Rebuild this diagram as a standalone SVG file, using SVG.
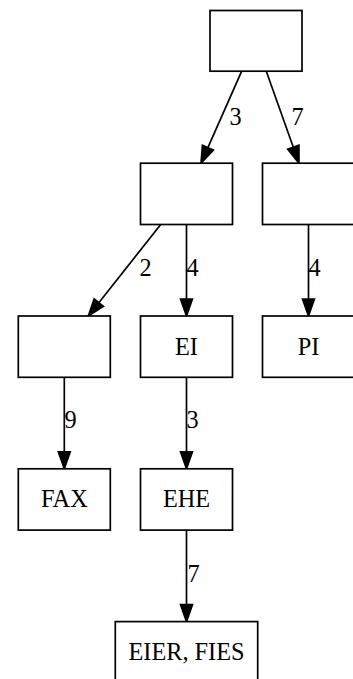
<svg xmlns="http://www.w3.org/2000/svg" width="353" height="679" viewBox="0 0 353 679">
<defs>
<marker id="arr" viewBox="0 -6 17 12" markerWidth="17" markerHeight="12" refX="0" refY="0" orient="auto" markerUnits="userSpaceOnUse" overflow="visible">
<path d="M0,-5.95 L17,0 L0,5.95 Z" fill="#000" stroke="#000" stroke-width="1.7"/>
</marker>
</defs>
<style>
.node rect{fill:#fff;stroke:#000;stroke-width:1.7}
.node text,.lbl{font-family:"Liberation Serif","Times New Roman",serif;font-size:24.3px;fill:#000}
.node text{text-anchor:middle}
.edge{fill:none;stroke:#000;stroke-width:1.7;marker-end:url(#arr)}
</style>
<rect width="353" height="679" fill="#fff"/>
<g id="connectors">
<path class="edge" d="M241.7,71.2 L207.9,147.65"/>
<path class="edge" d="M266.3,71.2 L293.3,147.2"/>
<path class="edge" d="M160.7,224.5 L98.85,302.67"/>
<path class="edge" d="M186.5,224.5 L186.5,299"/>
<path class="edge" d="M308.5,224.5 L308.5,299"/>
<path class="edge" d="M64.3,377.3 L64.3,451.8"/>
<path class="edge" d="M186.5,377.3 L186.5,451.8"/>
<path class="edge" d="M186.5,530.1 L186.5,604.6"/>
<text class="lbl" x="229.5" y="124.5">3</text>
<text class="lbl" x="291.5" y="124.5">7</text>
<text class="lbl" x="139.5" y="276">2</text>
<text class="lbl" x="186.5" y="276">4</text>
<text class="lbl" x="308.5" y="276">4</text>
<text class="lbl" x="64.5" y="428.3">9</text>
<text class="lbl" x="186.5" y="428.3">3</text>
<text class="lbl" x="187.5" y="581.5">7</text>
</g>
<g id="n_root" class="node"><rect x="210" y="10.5" width="92" height="60.7"/></g>
<g id="n_a" class="node"><rect x="140.5" y="163.2" width="92" height="61.3"/></g>
<g id="n_b" class="node"><rect x="262.5" y="163.2" width="92" height="61.3"/></g>
<g id="n_c" class="node"><rect x="18.3" y="316" width="92" height="61.3"/></g>
<g id="n_ei" class="node"><rect x="140.5" y="316" width="92" height="61.3"/><text x="186.5" y="354.5">EI</text></g>
<g id="n_pi" class="node"><rect x="262.5" y="316" width="92" height="61.3"/><text x="308.5" y="354.5">PI</text></g>
<g id="n_fax" class="node"><rect x="18.3" y="468.8" width="92" height="61.3"/><text x="64.3" y="507.3">FAX</text></g>
<g id="n_ehe" class="node"><rect x="140.5" y="468.8" width="92" height="61.3"/><text x="186.5" y="507.3">EHE</text></g>
<g id="n_eier" class="node"><rect x="115.3" y="621.6" width="142.4" height="61.3"/><text x="186.5" y="660.1">EIER, FIES</text></g>
</svg>
